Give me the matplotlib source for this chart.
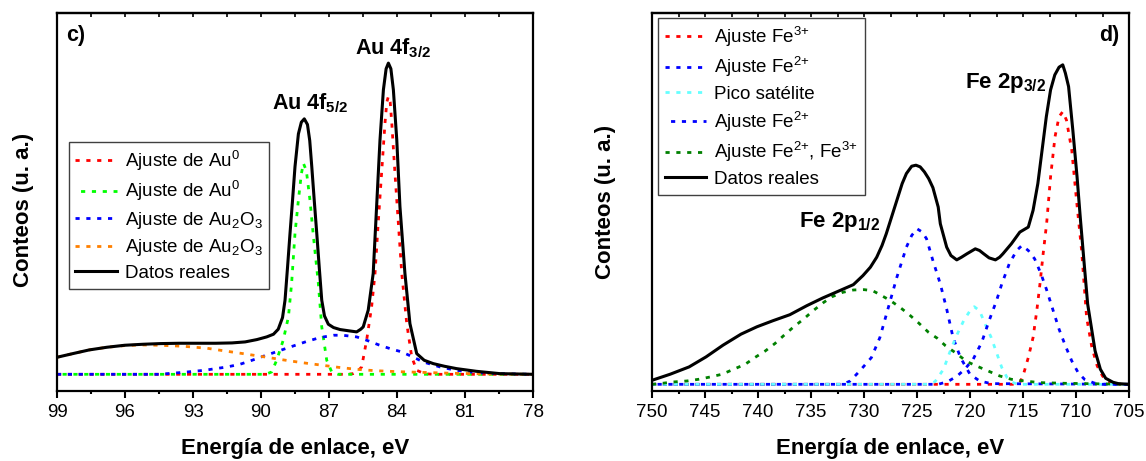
#!/usr/bin/env python3
"""
XPS spectra: Au 4f (panel c) and Fe 2p (panel d) with their fitted components.
"""

import matplotlib
matplotlib.use("Agg")
import matplotlib.pyplot as plt

# ---- panel c) Au 4f ----
AU_DATA_E = [99.0, 98.3, 97.58, 96.8, 96.01, 95.2, 94.43, 93.6, 92.86, 92.0, 91.28, 90.7,
             90.18, 89.75, 89.45, 89.24, 89.05, 88.94, 88.83, 88.72, 88.61, 88.50, 88.35,
             88.22, 88.09, 87.95, 87.85, 87.76, 87.65, 87.54, 87.43, 87.32, 87.2, 87.03,
             86.8, 86.51, 86.1, 85.78, 85.6, 85.49, 85.27, 85.05, 84.9, 84.75, 84.6, 84.48,
             84.38, 84.27, 84.16, 84.01, 83.87, 83.65, 83.43, 83.13, 82.8, 82.4, 81.9,
             81.37, 80.5, 79.46, 78.0]
AU_DATA_I = [51, 62, 73, 81, 87, 90, 92, 93, 93, 93, 94, 97,
             104, 112, 120, 135, 170, 222, 320, 422, 520, 622, 720,
             755, 765, 748, 700, 622, 520, 422, 320, 222, 175, 150,
             140, 134, 130, 127, 135, 142, 192, 302, 502, 702, 852, 915,
             932, 915, 852, 702, 502, 302, 152, 62, 42, 32, 24,
             17, 9, 2, 0]

AU0_A_E = [99.0, 86.2, 85.93, 85.75, 85.56, 85.34, 85.12, 84.97, 84.83, 84.68, 84.53, 84.45,
           84.38, 84.3, 84.23, 84.09, 83.94, 83.79, 83.57, 83.35, 83.13, 82.8, 82.4, 78.0]
AU0_A_I = [0, 0, 2, 8, 22, 102, 202, 302, 452, 602, 752, 815,
           832, 815, 752, 602, 452, 302, 152, 52, 12, 2, 0, 0]

AU0_B_E = [99.0, 89.8, 89.53, 89.31, 89.02, 88.79, 88.65, 88.5, 88.35, 88.22, 88.13, 88.0,
           87.84, 87.7, 87.47, 87.32, 87.1, 86.88, 86.6, 78.0]
AU0_B_I = [0, 0, 7, 42, 102, 172, 272, 422, 522, 600, 632, 610,
           522, 422, 272, 142, 42, 7, 0, 0]

AU2O3_A_E = [99.0, 94.5, 93.4, 92.5, 91.5, 90.93, 90.48, 89.9, 89.3, 88.7, 88.0, 87.4,
             86.8, 86.4, 85.78, 85.34, 84.8, 84.31, 83.79, 83.3, 82.84, 82.1, 81.4, 80.5,
             79.5, 78.0]
AU2O3_A_I = [0, 0, 6, 12, 22, 30, 40, 54, 68, 82, 98, 110,
             117, 117, 112, 102, 88, 77, 67, 52, 37, 22, 12, 5,
             2, 0]

AU2O3_B_E = [99.0, 98.3, 97.58, 96.8, 96.01, 95.3, 94.5, 93.44, 92.38, 91.5, 90.8, 89.74,
             89.0, 88.2, 87.4, 86.6, 85.8, 85.0, 84.0, 83.0, 81.5, 80.0, 78.0]
AU2O3_B_I = [51, 62, 73, 81, 86, 88, 87, 84, 78, 69, 62, 51,
             43, 35, 28, 21, 15, 11, 8, 6, 3, 1, 0]

# ---- panel d) Fe 2p ----
FE_DATA_E = [750.0, 748.3, 746.5, 744.9, 743.3, 741.6, 740.1, 738.6, 737.0, 735.4, 733.9,
             732.3, 731.0, 730.1, 729.4, 728.8, 728.3, 727.9, 727.4, 726.9, 726.4, 726.0,
             725.5, 725.1, 724.7, 724.3, 723.9, 723.5, 723.0, 722.8, 722.2, 721.8, 721.25,
             720.8, 720.3, 719.5, 719.1, 718.7, 718.2, 717.6, 717.2, 716.9, 716.1, 715.3,
             714.5, 714.05, 713.6, 713.2, 712.8, 712.4, 712.0, 711.6, 711.25, 711.0, 710.7,
             710.3, 709.9, 709.6, 709.2, 708.9, 708.5, 708.2, 707.7, 707.2, 706.5, 706.0,
             705.0]
FE_DATA_I = [12, 30, 52, 82, 117, 150, 172, 190, 208, 235, 258,
             280, 298, 325, 350, 380, 415, 450, 500, 550, 600, 630,
             652, 655, 650, 635, 615, 588, 530, 480, 410, 385, 372,
             380, 390, 405, 400, 390, 378, 372, 380, 390, 420, 455,
             470, 520, 600, 700, 800, 880, 925, 948, 955, 930, 890,
             760, 620, 500, 350, 240, 160, 100, 45, 18, 6, 2,
             0]

FE3_E = [750.0, 716.0, 715.3, 715.0, 714.5, 714.05, 713.7, 713.4, 713.1, 712.77, 712.4,
         711.98, 711.6, 711.25, 710.9, 710.4, 709.95, 709.47, 709.0, 708.5, 708.0, 707.5,
         707.0, 706.2, 705.0]
FE3_I = [0, 0, 5, 25, 80, 140, 220, 300, 390, 481, 620,
         740, 800, 815, 790, 700, 550, 400, 200, 110, 55, 25,
         8, 0, 0]

FE2_A_E = [750.0, 732.0, 731.3, 730.4, 729.3, 728.5, 727.7, 726.9, 726.0, 725.5, 725.0,
           724.5, 724.1, 723.5, 722.8, 722.2, 721.6, 720.9, 720.0, 719.1, 718.0, 705.0]
FE2_A_I = [0, 0, 10, 40, 80, 140, 230, 320, 410, 445, 465,
           455, 435, 370, 300, 225, 140, 80, 30, 10, 2, 0]

SAT_E = [750.0, 724.0, 723.3, 722.5, 721.8, 721.2, 720.6, 720.0, 719.6, 719.1, 718.5,
         718.0, 717.5, 717.0, 716.5, 716.0, 715.5, 705.0]
SAT_I = [0, 0, 8, 45, 105, 150, 190, 220, 232, 220, 175,
         140, 95, 50, 20, 6, 0, 0]

FE2_B_E = [750.0, 723.0, 722.1, 721.2, 720.5, 719.7, 718.9, 718.2, 717.5, 717.0, 716.3,
           715.6, 715.1, 714.5, 713.9, 713.3, 712.8, 712.2, 711.6, 711.0, 710.4, 709.8,
           709.2, 708.3, 707.5, 705.0]
FE2_B_I = [0, 0, 8, 25, 45, 75, 125, 190, 250, 300, 360,
           400, 415, 400, 375, 330, 285, 225, 165, 115, 70, 35,
           15, 4, 0, 0]

FE23_E = [750.0, 749.3, 748.0, 746.7, 745.6, 744.5, 743.4, 742.3, 741.2, 740.3, 739.3,
          738.4, 737.6, 736.7, 735.7, 734.8, 733.8, 733.0, 732.0, 731.0, 730.0, 729.2,
          728.6, 727.5, 726.6, 725.8, 724.9, 723.9, 723.1, 722.3, 721.4, 720.3, 719.4,
          718.3, 717.2, 716.1, 714.9, 713.4, 711.0, 709.0, 705.0]
FE23_I = [0, 2, 7, 10, 15, 22, 30, 45, 60, 80, 100,
          122, 145, 170, 195, 220, 245, 262, 275, 282, 283, 280,
          270, 250, 230, 210, 185, 155, 138, 115, 95, 68, 55,
          40, 25, 15, 10, 5, 3, 2, 0]

FIT_LW = 2.0
FIT_DASH = (0, (1.5, 2.4))
FIT_DASH_SHIFT = (1.9, (1.5, 2.4))
DATA_LW = 2.2
LEGEND_KW = dict(loc='upper left', borderaxespad=0, fontsize=13.5, frameon=True,
                 fancybox=False, framealpha=1, edgecolor='#404040', handlelength=2.2,
                 handletextpad=0.45, labelspacing=0.35, borderpad=0.35)


def style_axes(ax, xlim, major, minor, ylim):
    ax.set_xlim(*xlim)
    ax.set_ylim(*ylim)
    ax.set_yticks([])
    ticks = [xlim[0] - i * major for i in range(int(round((xlim[0] - xlim[1]) / major)) + 1)]
    mticks = [xlim[0] - i * minor for i in range(int(round((xlim[0] - xlim[1]) / minor)) + 1)]
    ax.set_xticks(ticks)
    ax.set_xticks(mticks, minor=True)
    ax.set_xticklabels([f"{t:g}" for t in ticks])
    ax.tick_params(axis='x', which='major', direction='out', length=5, width=1.5,
                   labelsize=13.5, pad=4)
    ax.tick_params(axis='x', which='minor', direction='out', length=2.5, width=1.5)
    for sp in ax.spines.values():
        sp.set_linewidth(1.6)
    # small inward ticks along the top edge
    top = ax.secondary_xaxis('top')
    top.set_xticks(ticks)
    top.set_xticks(mticks, minor=True)
    top.tick_params(axis='x', which='both', direction='in', length=3, width=1.2,
                    labeltop=False)
    top.spines['top'].set_linewidth(1.6)
    ax.set_xlabel('Energía de enlace, eV', fontsize=16, fontweight='bold')
    ax.xaxis.set_label_coords(0.5, -0.125)
    ax.set_ylabel('Conteos (u. a.)', fontsize=16, fontweight='bold')


def main():
    plt.rcParams['font.family'] = ['Liberation Sans', 'DejaVu Sans']
    plt.rcParams['mathtext.default'] = 'regular'

    fig = plt.figure(figsize=(11.46, 4.61), dpi=100)
    ax_au = fig.add_axes([57 / 1146, 1 - 391 / 461, 476 / 1146, 378 / 461])
    ax_fe = fig.add_axes([652 / 1146, 1 - 391 / 461, 477 / 1146, 378 / 461])

    # panel c)
    ax_au.plot(AU0_A_E, AU0_A_I, color='#ff0000', lw=FIT_LW, ls=FIT_DASH,
               label='Ajuste de Au$^0$')
    ax_au.plot(AU0_B_E, AU0_B_I, color='#00ff00', lw=FIT_LW, ls=FIT_DASH_SHIFT,
               label='Ajuste de Au$^0$')
    ax_au.plot(AU2O3_A_E, AU2O3_A_I, color='#0000ff', lw=FIT_LW, ls=FIT_DASH,
               label='Ajuste de Au$_2$O$_3$')
    ax_au.plot(AU2O3_B_E, AU2O3_B_I, color='#ff8000', lw=FIT_LW, ls=FIT_DASH,
               label='Ajuste de Au$_2$O$_3$')
    ax_au.plot(AU_DATA_E, AU_DATA_I, color='black', lw=DATA_LW, label='Datos reales')
    style_axes(ax_au, (99, 78), 3, 1.5, (-50, 1082))
    ax_au.yaxis.set_label_coords(-0.048, 0.48)
    ax_au.legend(bbox_to_anchor=(0.025, 0.659), **LEGEND_KW)
    ax_au.text(0.02, 0.94, 'c)', transform=ax_au.transAxes, fontsize=15.5,
               fontweight='bold', va='center', ha='left')
    ax_au.text(89.5, 792, 'Au 4f$_{5/2}$', fontsize=15.5, fontweight='bold',
               va='baseline', ha='left')
    ax_au.text(85.85, 957, 'Au 4f$_{3/2}$', fontsize=15.5, fontweight='bold',
               va='baseline', ha='left')

    # panel d)
    ax_fe.plot(FE3_E, FE3_I, color='#ff0000', lw=FIT_LW, ls=FIT_DASH,
               label='Ajuste Fe$^{3{+}}$')
    ax_fe.plot(FE2_A_E, FE2_A_I, color='#0000ff', lw=FIT_LW, ls=FIT_DASH,
               label='Ajuste Fe$^{2{+}}$')
    ax_fe.plot(SAT_E, SAT_I, color='#66ffff', lw=FIT_LW, ls=FIT_DASH,
               label='Pico satélite')
    ax_fe.plot(FE2_B_E, FE2_B_I, color='#0000ff', lw=FIT_LW, ls=FIT_DASH_SHIFT,
               label='Ajuste Fe$^{2{+}}$')
    ax_fe.plot(FE23_E, FE23_I, color='#008000', lw=FIT_LW, ls=FIT_DASH,
               label='Ajuste Fe$^{2{+}}$, Fe$^{3{+}}$')
    ax_fe.plot(FE_DATA_E, FE_DATA_I, color='black', lw=DATA_LW, label='Datos reales')
    style_axes(ax_fe, (750, 705), 5, 2.5, (-20, 1110))
    ax_fe.yaxis.set_label_coords(-0.075, 0.5)
    ax_fe.legend(bbox_to_anchor=(0.0126, 0.987), **LEGEND_KW)
    ax_fe.text(0.98, 0.94, 'd)', transform=ax_fe.transAxes, fontsize=15.5,
               fontweight='bold', va='center', ha='right')
    ax_fe.text(736.1, 469, 'Fe 2p$_{1/2}$', fontsize=16, fontweight='bold',
               va='baseline', ha='left')
    ax_fe.text(720.45, 886, 'Fe 2p$_{3/2}$', fontsize=16, fontweight='bold',
               va='baseline', ha='left')

    fig.savefig('out.png', dpi=100)
    print("Saved: out.png")


if __name__ == "__main__":
    main()
